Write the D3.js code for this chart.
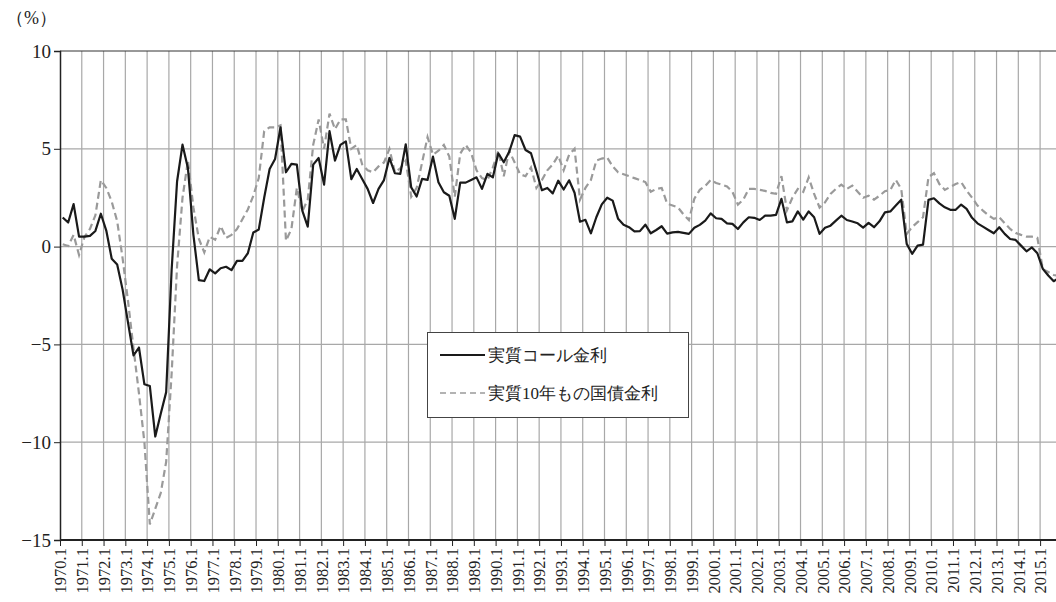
<!DOCTYPE html>
<html>
<head>
<meta charset="utf-8">
<script src="https://cdn.jsdelivr.net/npm/d3@7"></script>
<style>
  body { margin: 0; background: #fff; }
  svg text.ser { font-family: 'Liberation Serif', 'Times New Roman', 'DejaVu Serif', serif !important; }
</style>
</head>
<body>
<svg id="chart" width="1056" height="602"></svg>
<script>
// quarterly, 1970Q1 .. 2015Q4
let callRate = [
  1.49, 1.23, 2.17, 0.51,   0.51, 0.55, 0.80, 1.68,   0.82, -0.62, -0.91, -2.20,
  -3.90, -5.56, -5.16, -7.04,   -7.13, -9.71, -8.55, -7.44,   -1.20, 3.33, 5.21, 4.00,
  0.60, -1.71, -1.76, -1.16,   -1.37, -1.11, -1.03, -1.20,   -0.73, -0.73, -0.34, 0.72,
  0.87, 2.50, 3.97, 4.48,   6.10, 3.80, 4.23, 4.19,   1.84, 1.02, 4.19, 4.53,
  3.17, 5.90, 4.40, 5.20,   5.38, 3.45, 3.97, 3.46,   2.95, 2.23, 2.95, 3.40,
  4.53, 3.75, 3.72, 5.23,   3.03, 2.56, 3.46, 3.41,   4.60, 3.29, 2.78, 2.60,
  1.42, 3.27, 3.27, 3.41,   3.54, 2.95, 3.72, 3.54,   4.77, 4.31, 4.85, 5.70,
  5.62, 4.94, 4.77, 3.85,   2.88, 3.00, 2.72, 3.37,   2.92, 3.39, 2.75, 1.27,
  1.37, 0.68, 1.50, 2.16,   2.50, 2.35, 1.42, 1.12,   0.99, 0.78, 0.79, 1.12,
  0.68, 0.85, 1.04, 0.66,   0.73, 0.75, 0.70, 0.65,   0.96, 1.11, 1.33, 1.70,
  1.45, 1.42, 1.19, 1.16,   0.90, 1.24, 1.50, 1.47,   1.36, 1.58, 1.58, 1.62,
  2.44, 1.24, 1.29, 1.80,   1.38, 1.80, 1.50, 0.65,   0.96, 1.07, 1.33, 1.58,
  1.36, 1.28, 1.19, 0.97,   1.21, 0.99, 1.29, 1.75,   1.80, 2.10, 2.40, 0.14,
  -0.37, 0.05, 0.10, 2.39,   2.47, 2.21, 2.01, 1.88,   1.88, 2.15, 1.93, 1.47,
  1.19, 1.02, 0.85, 0.68,   0.99, 0.65, 0.39, 0.34,   0.05, -0.24, -0.04, -0.34,
  -1.14, -1.48, -1.77, -1.60
];

let bondRate = [
  0.12, 0.03, 0.60, -0.43,   0.50, 0.90, 1.60, 3.40,   3.00, 2.30, 1.30, -0.60,
  -2.80, -5.20, -7.50, -10.00,   -14.20, -13.40, -12.60, -11.00,   -6.50, -1.00, 2.50, 4.40,
  2.00, 0.40, -0.30, 0.50,   0.35, 1.05, 0.45, 0.60,   0.90, 1.40, 1.90, 2.60,
  3.50, 5.90, 6.10, 6.10,   6.20, 0.30, 0.90, 3.00,   1.80, 2.40, 5.20, 6.50,
  5.00, 6.80, 6.00, 6.50,   6.50, 5.00, 5.20, 4.20,   3.90, 3.80, 4.10, 4.30,
  5.00, 3.80, 4.00, 4.40,   2.55, 3.00, 4.30, 5.60,   4.70, 4.90, 5.20, 4.60,
  2.55, 4.75, 5.20, 4.80,   3.90, 3.50, 3.40, 4.05,   4.90, 3.60, 4.90, 4.30,
  3.70, 3.60, 4.05, 3.00,   3.40, 3.90, 4.20, 4.65,   3.90, 4.70, 5.00, 2.40,
  3.00, 3.40, 4.40, 4.50,   4.55, 4.10, 3.80, 3.70,   3.60, 3.50, 3.40, 3.30,
  2.80, 2.95, 3.00, 2.20,   2.10, 2.00, 1.65, 1.36,   2.45, 2.90, 3.10, 3.40,
  3.25, 3.17, 3.07, 2.80,   2.15, 2.40, 2.95, 2.95,   2.90, 2.85, 2.75, 2.70,
  3.60, 1.85, 2.50, 2.95,   2.80, 3.54, 2.69, 2.00,   2.26, 2.69, 2.95, 3.17,
  2.95, 3.12, 2.80, 2.50,   2.60, 2.40, 2.60, 2.83,   2.90, 3.41, 2.95, 0.65,
  1.00, 1.25, 1.50, 3.55,   3.75, 3.20, 2.90, 3.05,   3.20, 3.30, 2.86, 2.50,
  2.10, 1.84, 1.60, 1.42,   1.50, 1.20, 0.90, 0.70,   0.60, 0.51, 0.51, 0.45,
  -1.15, -1.30, -1.45, -1.50
];

let years = d3.range(1970, 2016);
let yearLabels = years.map(y => y + '.1');
let yTicks = [10, 5, 0, -5, -10, -15];
let seriesNames = ['実質コール金利', '実質10年もの国債金利'];

let svg = d3.select('#chart');

let plotLeft = 60, plotTop = 51, plotBottom = 540;
let yearW = 21.78;

let x = d3.scaleLinear()
  .domain([1970, 2016])
  .range([plotLeft, plotLeft + 46 * yearW]);

let y = d3.scaleLinear()
  .domain([-15, 10])
  .range([plotBottom, plotTop]);

// quarter i sits in the middle of its slot
let qx = i => x(1970 + (i + 0.5) / 4);

// grid
svg.append('g')
  .selectAll('line')
  .data(years.slice(1))
  .join('line')
  .attr('x1', d => x(d)).attr('x2', d => x(d))
  .attr('y1', plotTop).attr('y2', plotBottom)
  .attr('stroke', '#a8a8a8')
  .attr('stroke-width', 1.2);

svg.append('g')
  .selectAll('line')
  .data([5, 0, -5, -10])
  .join('line')
  .attr('x1', plotLeft).attr('x2', 1056)
  .attr('y1', d => y(d)).attr('y2', d => y(d))
  .attr('stroke', '#a8a8a8')
  .attr('stroke-width', 1.2);

// top border
svg.append('line')
  .attr('x1', plotLeft).attr('x2', 1056)
  .attr('y1', y(10)).attr('y2', y(10))
  .attr('stroke', '#333').attr('stroke-width', 1);

// y axis
let yAxis = d3.axisLeft(y)
  .tickValues(yTicks)
  .tickSize(6)
  .tickPadding(3)
  .tickFormat(d => d < 0 ? '\u2212' + Math.abs(d) : d);

let gy = svg.append('g')
  .attr('transform', `translate(${plotLeft},0)`)
  .call(yAxis);
gy.select('.domain').attr('stroke', '#222').attr('stroke-width', 1.5);
gy.selectAll('.tick line').attr('stroke', '#222');
gy.selectAll('.tick text')
  .attr('class', 'ser')
  .attr('font-size', 19)
  .attr('fill', '#222');

// x axis
let xAxis = d3.axisBottom(x)
  .tickValues(years)
  .tickSize(6)
  .tickFormat((d, i) => yearLabels[i]);

let gx = svg.append('g')
  .attr('transform', `translate(0,${plotBottom})`)
  .call(xAxis);
gx.select('.domain').attr('stroke', '#222').attr('stroke-width', 2)
  .attr('d', `M${plotLeft},0H1056`);
gx.selectAll('.tick line').attr('stroke', '#222');
gx.selectAll('.tick text')
  .attr('class', 'ser')
  .attr('font-size', 16.5)
  .attr('fill', '#222')
  .attr('transform', 'rotate(-90)')
  .attr('x', -8)
  .attr('y', 0)
  .attr('dy', '0.35em')
  .attr('text-anchor', 'end');

// unit
svg.append('text')
  .attr('class', 'ser')
  .attr('x', 6).attr('y', 24)
  .attr('font-size', 18)
  .attr('fill', '#222')
  .text('（%）');

// lines
let line = d3.line()
  .x((d, i) => qx(i))
  .y(d => y(d));

svg.append('path')
  .datum(bondRate)
  .attr('d', line)
  .attr('fill', 'none')
  .attr('stroke', '#9a9a9a')
  .attr('stroke-width', 2.2)
  .attr('stroke-dasharray', '7,4');

svg.append('path')
  .datum(callRate)
  .attr('d', line)
  .attr('fill', 'none')
  .attr('stroke', '#1a1a1a')
  .attr('stroke-width', 2.2)
  .attr('stroke-linejoin', 'round');

// legend
let lg = svg.append('g');
lg.append('rect')
  .attr('x', 427.5).attr('y', 332.5)
  .attr('width', 261).attr('height', 85)
  .attr('fill', '#fff')
  .attr('stroke', '#444').attr('stroke-width', 1);

lg.append('line')
  .attr('x1', 440).attr('x2', 485)
  .attr('y1', 355).attr('y2', 355)
  .attr('stroke', '#1a1a1a').attr('stroke-width', 2.2);
lg.append('line')
  .attr('x1', 440).attr('x2', 485)
  .attr('y1', 393).attr('y2', 393)
  .attr('stroke', '#9a9a9a').attr('stroke-width', 1.6)
  .attr('stroke-dasharray', '6,4');

lg.selectAll('text.lab')
  .data(seriesNames)
  .join('text')
  .attr('class', 'lab ser')
  .attr('x', 488)
  .attr('y', (d, i) => 355 + i * 38)
  .attr('dy', '0.35em')
  .attr('font-size', 17)
  .attr('fill', '#222')
  .text(d => d);
</script>
</body>
</html>
